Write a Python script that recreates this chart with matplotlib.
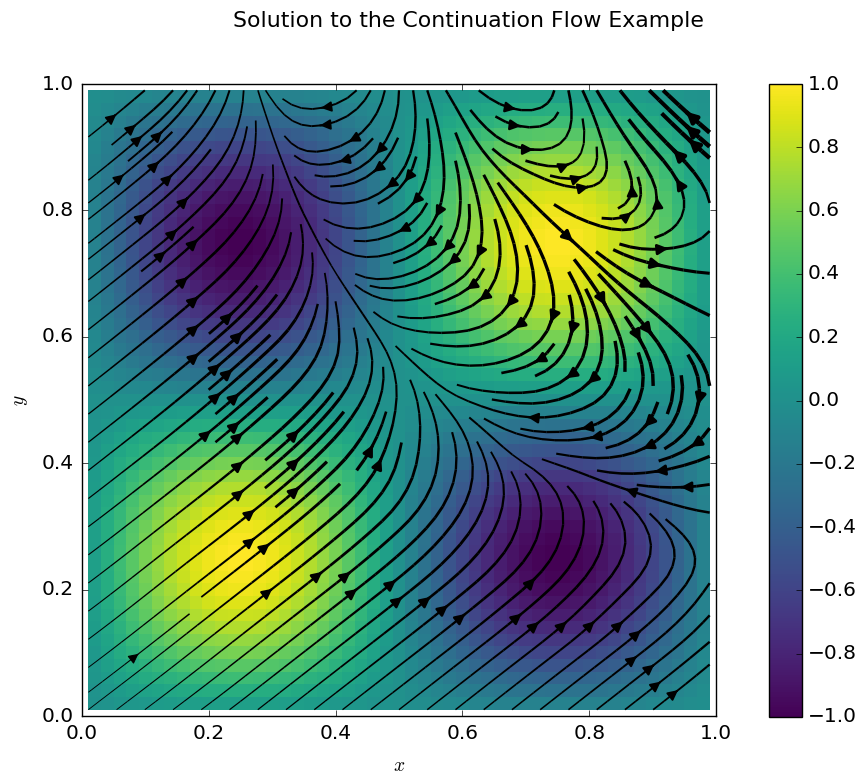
import numpy as np
import matplotlib
matplotlib.use("Agg")
import matplotlib.pyplot as plt

# field values in hundredths, lower left quarter of the picture (y = 0.02 .. 0.50)
# the other quarters repeat it mirrored, with the sign flipped across x = 0.5 and y = 0.5
quarter = [
    [2,3,5,6,7,9,10,11,11,12,12,12,12,12,12,11,11,10,9,7,6,5,3,2,0],
    [3,6,9,12,15,17,19,21,23,24,24,25,25,24,24,23,21,19,17,15,12,9,6,3,0],
    [5,9,14,18,22,25,28,31,33,35,36,37,37,36,35,33,31,28,25,22,18,14,9,5,0],
    [6,12,18,23,28,33,37,41,44,46,47,48,48,47,46,44,41,37,33,28,23,18,12,6,0],
    [7,15,22,28,35,40,45,50,53,56,58,59,59,58,56,53,50,45,40,35,28,22,15,7,0],
    [9,17,25,33,40,47,53,58,62,65,67,68,68,67,65,62,58,53,47,40,33,25,17,9,0],
    [10,19,28,37,45,53,59,65,70,73,76,77,77,76,73,70,65,59,53,45,37,28,19,10,0],
    [11,21,31,41,50,58,65,71,76,80,83,84,84,83,80,76,71,65,58,50,41,31,21,11,0],
    [11,23,33,44,53,62,70,76,82,86,89,90,90,89,86,82,76,70,62,53,44,33,23,11,0],
    [12,24,35,46,56,65,73,80,86,90,93,95,95,93,90,86,80,73,65,56,46,35,24,12,0],
    [12,24,36,47,58,67,76,83,89,93,96,98,98,96,93,89,83,76,67,58,47,36,24,12,0],
    [12,25,37,48,59,68,77,84,90,95,98,100,100,98,95,90,84,77,68,59,48,37,25,12,0],
    [12,25,37,48,59,68,77,84,90,95,98,100,100,98,95,90,84,77,68,59,48,37,25,12,0],
    [12,24,36,47,58,67,76,83,89,93,96,98,98,96,93,89,83,76,67,58,47,36,24,12,0],
    [12,24,35,46,56,65,73,80,86,90,93,95,95,93,90,86,80,73,65,56,46,35,24,12,0],
    [11,23,33,44,53,62,70,76,82,86,89,90,90,89,86,82,76,70,62,53,44,33,23,11,0],
    [11,21,31,41,50,58,65,71,76,80,83,84,84,83,80,76,71,65,58,50,41,31,21,11,0],
    [10,19,28,37,45,53,59,65,70,73,76,77,77,76,73,70,65,59,53,45,37,28,19,10,0],
    [9,17,25,33,40,47,53,58,62,65,67,68,68,67,65,62,58,53,47,40,33,25,17,9,0],
    [7,15,22,28,35,40,45,50,53,56,58,59,59,58,56,53,50,45,40,35,28,22,15,7,0],
    [6,12,18,23,28,33,37,41,44,46,47,48,48,47,46,44,41,37,33,28,23,18,12,6,0],
    [5,9,14,18,22,25,28,31,33,35,36,37,37,36,35,33,31,28,25,22,18,14,9,5,0],
    [3,6,9,12,15,17,19,21,23,24,24,25,25,24,24,23,21,19,17,15,12,9,6,3,0],
    [2,3,5,6,7,9,10,11,11,12,12,12,12,12,12,11,11,10,9,7,6,5,3,2,0],
    [0]*25,
]

flow_u = [
    [.09,.16,.24,.28,.32,.36,.39,.43,.47,.51,.55],
    [.16,.28,.43,.55,.63,.67,.71,.75,.75,.79,.84],
    [.20,.39,.63,.83,.95,1.02,1.08,1.07,.87,.85,.58],
    [.24,.47,.75,.98,1.14,1.09,.80,.20,0,-.46,-1.05],
    [.28,.59,.86,1.14,1.27,.34,0,-.51,-.99,-1.36,-1.51],
    [.32,.70,.99,1.26,1.0,.04,-.64,-1.2,-1.34,-.49,-.19],
    [.32,.78,1.07,1.23,0,-.53,-1.2,-1.23,-.17,1.09,1.47],
    [.32,.78,1.04,.67,-.26,-.97,-1.02,0,1.09,1.76,1.49],
    [.32,.70,.85,.23,-.78,-.94,-.14,1.03,1.44,.51,.20],
    [.32,.76,.60,-.15,-.94,-.54,.50,1.27,.23,-1.30,-1.90],
    [.39,.76,.40,-.35,-.74,0,.75,1.0,-.67,-1.41,-1.90],
]
flow_v = [
    [.07,.12,.18,.22,.25,.28,.31,.34,.37,.40,.43],
    [.12,.22,.34,.43,.49,.52,.55,.58,.58,.62,.71],
    [.15,.31,.49,.65,.74,.81,.89,.91,.96,.85,.93],
    [.18,.37,.58,.78,.97,1.03,1.15,.98,.95,.77,.32],
    [.22,.46,.69,.97,1.27,1.36,1.0,.31,.15,-.34,-.53],
    [.25,.56,.84,1.14,1.25,.9,.29,.06,-.67,-1.63,-1.89],
    [.25,.63,.91,1.17,1.1,.29,-.06,-.86,-1.69,-1.56,-1.03],
    [.25,.63,.94,1.11,.43,-.24,-.81,-1.6,-1.56,-.70,-.15],
    [.25,.56,.85,.77,.16,-.57,-1.39,-1.47,-.43,.86,.98],
    [.25,.65,.80,.58,-.33,-1.07,-1.42,-.25,.77,1.52,1.62],
    [.31,.65,.80,.35,-.30,-1.0,-.94,0,1.34,1.41,1.62],
]

plt.style.use("classic")
plt.rcParams["font.size"] = 14.5

quarter = np.array(quarter) / 100.0
left = np.hstack([quarter, -quarter[:, -2::-1]])
heat = np.vstack([left, -left[-2::-1, :]])

edges = np.linspace(0.01, 0.99, 50)
gx = np.linspace(0.01, 0.99, 11)
gy = np.linspace(0.01, 0.99, 11)
U = np.array(flow_u)
V = np.array(flow_v)
speed = np.sqrt(U**2 + V**2)

fig = plt.figure(figsize=(8.68, 7.79), dpi=100, facecolor="white")
ax = fig.add_axes([82/868, 1 - 716/779, 634/868, 632/779])
mesh = ax.pcolormesh(edges, edges, heat, cmap="viridis", vmin=-1, vmax=1, linewidth=0)
ax.streamplot(gx, gy, U, V, color="k", density=1.5, linewidth=0.5 + 1.1*speed, arrowsize=1.5)
ax.set_xlim(0, 1)
ax.set_ylim(0, 1)
ax.set_xlabel("$x$", fontsize=14, labelpad=9)
ax.set_ylabel("$y$", fontsize=14, labelpad=8)
ax.tick_params(pad=6)

cax = fig.add_axes([769/868, 1 - 717/779, 33/868, 633/779])
cbar = fig.colorbar(mesh, cax=cax)
cbar.set_ticks(np.arange(-1, 1.01, 0.2))

fig.text(468/868, 1 - 21/779, "Solution to the Continuation Flow Example", ha="center", va="center", fontsize=15.8)
fig.savefig("out.png", dpi=100, facecolor="white")
